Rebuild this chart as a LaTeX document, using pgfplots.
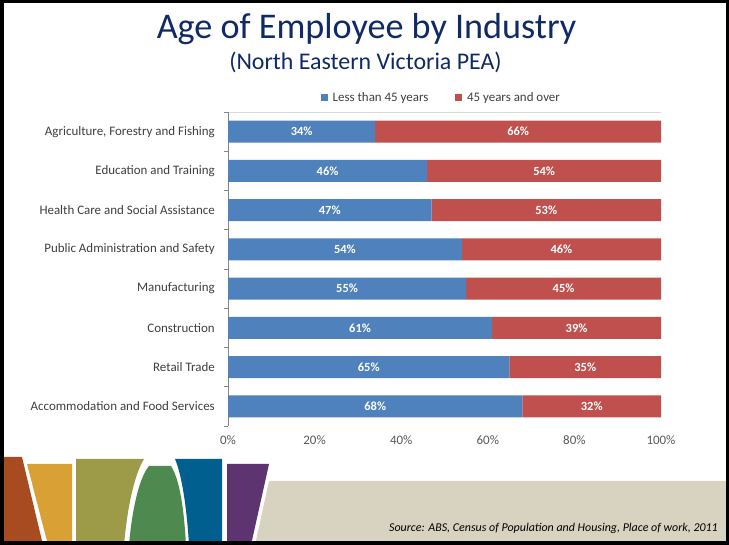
\documentclass[border=0pt]{standalone}
\usepackage{pgfplots}
\pgfplotsset{compat=1.18}
\usepackage{fontspec}
\setmainfont{Carlito}
\definecolor{barblue}{HTML}{4F81BD}
\definecolor{barred}{HTML}{C0504D}
\definecolor{titleblue}{HTML}{102A66}
\definecolor{labgray}{HTML}{404040}
\definecolor{tickgray}{HTML}{595959}
\definecolor{axgray}{HTML}{868686}
\definecolor{topgray}{HTML}{D9D9D9}
\definecolor{cbrown}{HTML}{A84B20}
\definecolor{cgold}{HTML}{D9A036}
\definecolor{colive}{HTML}{9D9A48}
\definecolor{cgreen}{HTML}{4E8A50}
\definecolor{cblue}{HTML}{005F8E}
\definecolor{cpurple}{HTML}{5D346F}
\definecolor{cbeige}{HTML}{D8D3C0}
\pgfplotstableread{
x y lab
17   0 34
23   1 46
23.5 2 47
27   3 54
27.5 4 55
30.5 5 61
32.5 6 65
34   7 68
67   0 66
73   1 54
73.5 2 53
77   3 46
77.5 4 45
80.5 5 39
82.5 6 35
84   7 32
}\labtable
\begin{document}
\begin{tikzpicture}
\begin{scope}[x=1bp,y=1bp]
\useasboundingbox (0,0) rectangle (729,545);
\fill[white] (0,0) rectangle (729,545);
% decoration
\fill[cbrown] (0,88) -- (22,88) -- (43,0) -- (0,0) -- cycle;
\fill[cgold] (27,81) -- (72,81) -- (72,0) -- (48,0) -- cycle;
\fill[colive] (76,86) -- (144,86) .. controls (136,73) and (128,45) .. (124,0) -- (76,0) -- cycle;
\fill[cgreen] (149,79) -- (171,79) .. controls (180,65) and (184,35) .. (186,0) -- (129,0) .. controls (132,35) and (139,67) .. (149,79) -- cycle;
\fill[cblue] (175,86) -- (222,86) -- (222,0) -- (189,0) .. controls (187,35) and (182,70) .. (175,86) -- cycle;
\fill[cpurple] (227,81) -- (269,81) -- (251,0) -- (227,0) -- cycle;
\fill[cbeige] (269,64) -- (729,64) -- (729,0) -- (255,0) -- cycle;
% titles
\node[anchor=base, font=\fontsize{36.3}{43}\selectfont, text=titleblue, inner sep=0pt] at (366.5,506) {Age of Employee by Industry};
\node[anchor=base, font=\fontsize{24}{29}\selectfont, text=titleblue, inner sep=0pt] at (365.5,475) {(North Eastern Victoria PEA)};
\node[anchor=base east, font=\fontsize{12}{14}\selectfont\itshape, text=black, inner sep=0pt] at (718,13) {Source: ABS, Census of Population and Housing, Place of work, 2011};
\draw[topgray, line width=0.8bp] (224,433) -- (661,433);
\end{scope}
\begin{axis}[
  at={(228bp,119bp)}, anchor=south west,
  scale only axis, width=433bp, height=314bp,
  xbar stacked, bar width=22bp,
  xmin=0, xmax=100, ymin=-0.5, ymax=7.5,
  y dir=reverse,
  axis lines*=left,
  x axis line style={draw=none},
  y axis line style={draw=axgray, line width=0.8bp},
  /pgf/number format/assume math mode=true,
  xtick={0,20,...,100},
  xticklabel={\pgfmathprintnumber{\tick}\%},
  xticklabel style={font=\fontsize{13}{15}\selectfont, text=tickgray, inner sep=0pt, yshift=-9bp},
  ytick={0,...,7},
  yticklabels={Agriculture{,} Forestry and Fishing, Education and Training, Health Care and Social Assistance, Public Administration and Safety, Manufacturing, Construction, Retail Trade, Accommodation and Food Services},
  yticklabel style={font=\fontsize{13}{15}\selectfont, text=labgray, inner sep=0pt, xshift=-13bp},
  minor ytick={-0.5,0.5,...,7.5},
  tick align=outside,
  major tick length=0pt,
  minor tick length=4bp,
  tick style={draw=axgray, line width=0.8bp},
  every minor tick/.style={draw=axgray, line width=0.8bp},
  legend style={at={(0.5,1)}, anchor=south, xshift=-3bp, yshift=5bp, draw=none, fill=none, font=\fontsize{13}{15}\selectfont, text=labgray, legend columns=2, /tikz/every odd column/.append style={column sep=3bp}, /tikz/every even column/.append style={column sep=25bp}},
  sqlegend/.style={legend image code/.code={\fill[##1] (0bp,-3.3bp) rectangle (6.6bp,3.3bp);}},
]
\addplot[fill=barblue, draw=none, sqlegend] coordinates {(34,0) (46,1) (47,2) (54,3) (55,4) (61,5) (65,6) (68,7)};
\addlegendentry{Less than 45 years}
\addplot[fill=barred, draw=none, sqlegend] coordinates {(66,0) (54,1) (53,2) (46,3) (45,4) (39,5) (35,6) (32,7)};
\addlegendentry{45 years and over}
\end{axis}
\begin{axis}[
  at={(228bp,119bp)}, anchor=south west,
  scale only axis, width=433bp, height=314bp,
  xmin=0, xmax=100, ymin=-0.5, ymax=7.5,
  y dir=reverse, hide axis,
  point meta=explicit symbolic,
  nodes near coords={\pgfplotspointmeta\%},
  nodes near coords align=center,
  every node near coord/.append style={font=\fontsize{12.5}{14}\selectfont\bfseries, text=white, anchor=center, inner sep=0pt},
]
\addplot[only marks, mark=none] table[x=x, y=y, meta=lab] {\labtable};
\end{axis}
\begin{scope}[x=1bp,y=1bp]
\draw[black, line width=3.5bp] (1.75,1.75) rectangle (727.25,543.25);
\end{scope}
\end{tikzpicture}
\end{document}
